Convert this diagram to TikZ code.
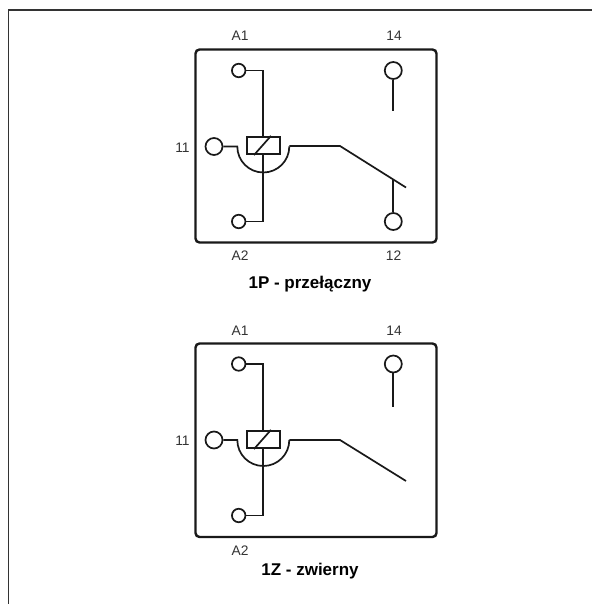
\documentclass[tikz,border=0pt]{standalone}
\usepackage{fontspec}
\setmainfont{Liberation Sans}
\usetikzlibrary{positioning}
\tikzset{
  wire/.style={line width=1.7pt, black!90},
  casing/.style={line width=2.4pt, black!90, rounded corners=4pt},
  pinbig/.style={circle, draw=black!90, line width=1.7pt, minimum size=17pt, inner sep=0pt},
  pinsmall/.style={circle, draw=black!90, line width=1.7pt, minimum size=13.5pt, inner sep=0pt},
  coilbox/.style={rectangle, draw=black!90, line width=1.7pt, minimum width=33pt, minimum height=17.5pt, inner sep=0pt},
  pinlabel/.style={font=\fontsize{13.8}{15}\selectfont, text=black!80, inner sep=0pt},
  caption/.style={font=\fontsize{17}{19}\selectfont\bfseries, text=black, inner sep=0pt}
}
\begin{document}
\begin{tikzpicture}[x=1pt,y=-1pt]
  \useasboundingbox (0,0) rectangle (592,604);
  % Outer frame
  \coordinate (frameA) at (8.3,604);
  \coordinate (frameB) at (8.3,10);
  \coordinate (frameC) at (592,10);
  \draw[line width=1.5pt, black!80] (frameA) -- (frameB) -- (frameC);

  % 1P
  \node[pinsmall] (a1p) at (238.7,70.5) {};
  \node[pinsmall] (a2p) at (238.7,221.5) {};
  \node[pinbig] (c14p) at (393.3,70.5) {};
  \node[pinbig] (c12p) at (393.3,221.5) {};
  \node[pinbig] (c11p) at (214,146.5) {};
  \node[coilbox] (coilp) at (263.3,145.5) {};
  \coordinate (cornerap) at (262.7,70.5);
  \coordinate (cornerbp) at (262.7,221.5);
  \coordinate (stubp) at (393.3,111.5);
  \coordinate (armlp) at (237.3,146.5);
  \coordinate (armrp) at (289.3,146);
  \coordinate (kneep) at (340,146);
  \coordinate (tipp) at (406,187.5);
  \coordinate (touchp) at (393.3,179.5);
  \coordinate (casep) at (195.5,49.5);
  \coordinate (caseq) at (436.5,242.5);
  \draw[casing] (casep) rectangle (caseq);
  \draw[wire] (a1p) -- (cornerap) -- (coilp.north -| cornerap);
  \draw[wire] (a2p) -- (cornerbp) -- (coilp.south -| cornerbp);
  \draw[wire] (c14p) -- (stubp);
  \draw[wire] (c12p) -- (touchp);
  \draw[wire] (c11p) -- (armlp) arc[start angle=180, end angle=360, radius=26, y radius=-26];
  \draw[wire] (armrp) -- (kneep) -- (tipp);
  \draw[wire] ([xshift=8pt]coilp.south west) -- ([xshift=25pt]coilp.north west);
  \node[pinlabel] (la1p) at (240,36) {A1};
  \node[pinlabel] (l14p) at (394,36) {14};
  \node[pinlabel] (l11p) at (182.5,148) {11};
  \node[pinlabel] (la2p) at (240,256) {A2};
  \node[pinlabel] (l12p) at (393.5,256) {12};
  \node[caption] (titlep) at (310,284) {1P - przełączny};

  % 1Z
  \node[pinsmall] (a1z) at (238.7,364) {};
  \node[pinsmall] (a2z) at (238.7,515.5) {};
  \node[pinbig] (c14z) at (393.3,364) {};
  \node[pinbig] (c11z) at (214,440) {};
  \node[coilbox] (coilz) at (263.3,439.5) {};
  \coordinate (corneraz) at (262.7,364);
  \coordinate (cornerbz) at (262.7,515.5);
  \coordinate (stubz) at (393.3,406.5);
  \coordinate (armlz) at (237.3,440);
  \coordinate (armrz) at (289.3,440);
  \coordinate (kneez) at (340,440);
  \coordinate (tipz) at (406,481);
  \coordinate (casez) at (195.5,343.5);
  \coordinate (casey) at (436.5,537);
  \draw[casing] (casez) rectangle (casey);
  \draw[wire] (a1z) -- (corneraz) -- (coilz.north -| corneraz);
  \draw[wire] (a2z) -- (cornerbz) -- (coilz.south -| cornerbz);
  \draw[wire] (c14z) -- (stubz);
  \draw[wire] (c11z) -- (armlz) arc[start angle=180, end angle=360, radius=26, y radius=-26];
  \draw[wire] (armrz) -- (kneez) -- (tipz);
  \draw[wire] ([xshift=8pt]coilz.south west) -- ([xshift=25pt]coilz.north west);
  \node[pinlabel] (la1z) at (240,331) {A1};
  \node[pinlabel] (l14z) at (394,331) {14};
  \node[pinlabel] (l11z) at (182.5,441) {11};
  \node[pinlabel] (la2z) at (240,550.5) {A2};
  \node[caption] (titlez) at (310,571) {1Z - zwierny};
\end{tikzpicture}
\end{document}
